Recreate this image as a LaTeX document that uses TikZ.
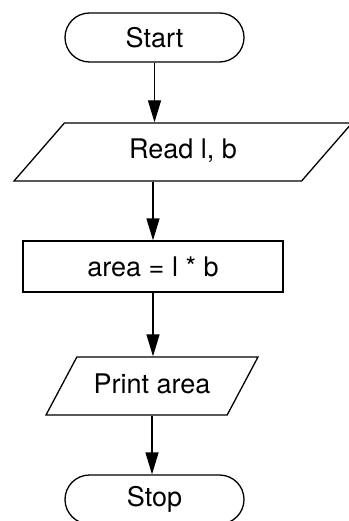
\documentclass[tikz,border=0pt]{standalone}
\usepackage{fontspec}
\setmainfont{TeX Gyre Heros}
\usetikzlibrary{shapes.misc,shapes.geometric,arrows.meta}
\tikzset{
  terminal/.style={rounded rectangle,draw,line width=1.3pt,minimum width=179pt,minimum height=49pt,inner sep=0pt},
  iobox/.style={trapezium,draw,line width=1.3pt,trapezium stretches body,text height=19pt,text depth=5pt,inner xsep=0pt,inner ysep=17pt},
  procbox/.style={rectangle,draw,line width=1.3pt,minimum width=260pt,minimum height=51pt,inner sep=0pt},
  flow/.style={line width=1.3pt,-{Triangle[length=22pt,width=13pt]}}
}
\begin{document}
\begin{tikzpicture}[x=1pt,y=-1pt,font=\fontsize{27}{31}\selectfont]
\useasboundingbox (0,0) rectangle (348,521);
\draw (154.5,37.5) node[terminal] (start) {Start};
\draw (183,152) node[iobox,trapezium left angle=49,trapezium right angle=131,minimum width=338pt] (read) {Read l, b};
\draw (153,266.5) node[procbox] (area) {area = l * b};
\draw (152,386) node[iobox,trapezium left angle=62,trapezium right angle=118,minimum width=212pt] (print) {Print area};
\draw (154.5,499.5) node[terminal] (stop) {Stop};
\draw[flow] (start.south) -- (start.south |- read.north);
\draw[flow] (area.north |- read.south) -- (area.north);
\draw[flow] (area.south) -- (area.south |- print.north);
\draw[flow] (print.south) -- (print.south |- stop.north);
\end{tikzpicture}
\end{document}
